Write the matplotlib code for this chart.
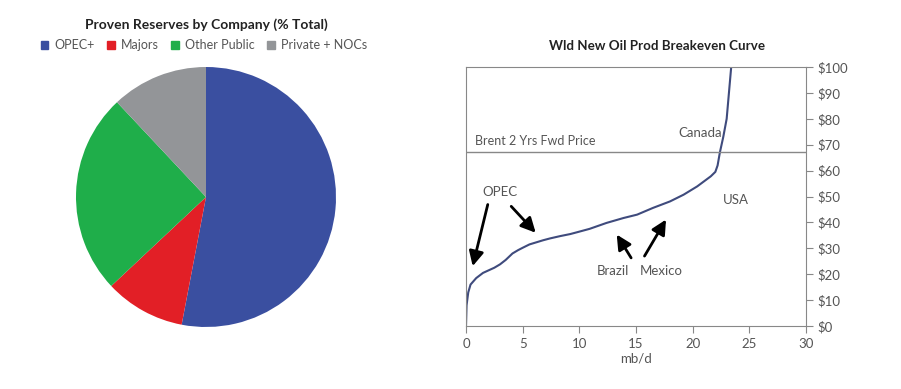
import matplotlib.pyplot as plt
from matplotlib.patches import Patch

plt.rcParams['font.family'] = ['Lato', 'DejaVu Sans']

# pie data (% of proven reserves)
groups = ['OPEC+', 'Majors', 'Other Public', 'Private + NOCs']
shares = [53, 10, 25, 12]
pie_colors = ['#3a4fa0', '#e21f26', '#1fae4a', '#939598']

# breakeven curve
supply = [0, 0.05, 0.2, 0.4, 0.6, 0.9, 1.2, 1.5, 2.0, 2.5, 3.0, 3.5, 4.1, 4.6,
          5.0, 5.6, 6.2, 6.8, 7.4, 8.3, 9.2, 9.8, 10.9, 12.4, 13.9, 15.1,
          16.5, 18.0, 19.2, 20.4, 21.6, 22.0, 22.2, 22.4, 22.7, 23.0, 23.2, 23.4]
price = [0, 8, 13, 16, 17, 18.5, 19.5, 20.5, 21.5, 22.5, 23.8, 25.5, 28, 29.3,
         30.2, 31.5, 32.3, 33.1, 33.8, 34.7, 35.5, 36.2, 37.5, 39.8, 41.7, 43.0,
         45.6, 48.1, 50.7, 53.9, 57.8, 59.5, 62, 67, 73, 80, 90, 100]
brent_fwd = 67

W, H = 901, 389
fig = plt.figure(figsize=(W / 100, H / 100), dpi=100)

# ---- pie ----
axp = fig.add_axes([76 / W, (H - 327) / H, 260 / W, 260 / H])
axp.pie(shares, colors=pie_colors, startangle=90, counterclock=False)
axp.set_xlim(-1, 1)
axp.set_ylim(-1, 1)
axp.set_aspect('equal')
fig.text(206 / W, 1 - 25 / H, 'Proven Reserves by Company (% Total)',
         ha='center', va='center', fontsize=10, fontweight='bold', color='#222222')
handles = [Patch(color=c, label=g) for c, g in zip(pie_colors, groups)]
fig.legend(handles=handles, loc='center', bbox_to_anchor=(204 / W, 1 - 45 / H),
           ncol=4, frameon=False, fontsize=9, handlelength=0.6, handleheight=0.6,
           handletextpad=0.5, columnspacing=1.0, labelcolor='#555555')

# ---- breakeven curve ----
ax = fig.add_axes([466 / W, (H - 326) / H, 340 / W, 259 / H])
ax.plot(supply, price, color='#3f4b7d', lw=1.5)
ax.axhline(brent_fwd, color='#888888', lw=1)
ax.set_xlim(0, 30)
ax.set_ylim(0, 100)
ax.set_xticks(range(0, 31, 5))
ax.set_yticks(range(0, 101, 10))
ax.set_yticklabels(['$' + str(v) for v in range(0, 101, 10)])
ax.yaxis.tick_right()
ax.tick_params(axis='both', direction='out', length=5, color='#888888',
               labelcolor='#555555', labelsize=9.5)
for s in ax.spines.values():
    s.set_color('#888888')
ax.set_xlabel('mb/d', fontsize=9.5, color='#555555', labelpad=2)
fig.text(657 / W, 1 - 46 / H, 'Wld New Oil Prod Breakeven Curve',
         ha='center', va='center', fontsize=9.6, fontweight='bold', color='#222222')

tc = '#555555'
ax.text(0.8, 71.5, 'Brent 2 Yrs Fwd Price', fontsize=9, color=tc, va='center')
ax.text(20.7, 74.5, 'Canada', fontsize=9.5, color=tc, ha='center', va='center')
ax.text(23.8, 48.7, 'USA', fontsize=9.5, color=tc, ha='center', va='center')
ax.text(3.0, 51.7, 'OPEC', fontsize=9.5, color=tc, ha='center', va='center')
ax.text(13.0, 21.4, 'Brazil', fontsize=9.5, color=tc, ha='center', va='center')
ax.text(17.2, 21.4, 'Mexico', fontsize=9.5, color=tc, ha='center', va='center')

arrow = dict(arrowstyle='-|>', lw=2, color='black', mutation_scale=22, shrinkA=0, shrinkB=0)
ax.annotate('', xy=(0.59, 23.1), xytext=(1.92, 46.9), arrowprops=arrow)
ax.annotate('', xy=(6.15, 36.0), xytext=(3.99, 46.2), arrowprops=arrow)
ax.annotate('', xy=(13.3, 35.3), xytext=(14.57, 26.3), arrowprops=arrow)
ax.annotate('', xy=(17.65, 41.1), xytext=(15.75, 27.0), arrowprops=arrow)

fig.savefig('out.png', dpi=100)
